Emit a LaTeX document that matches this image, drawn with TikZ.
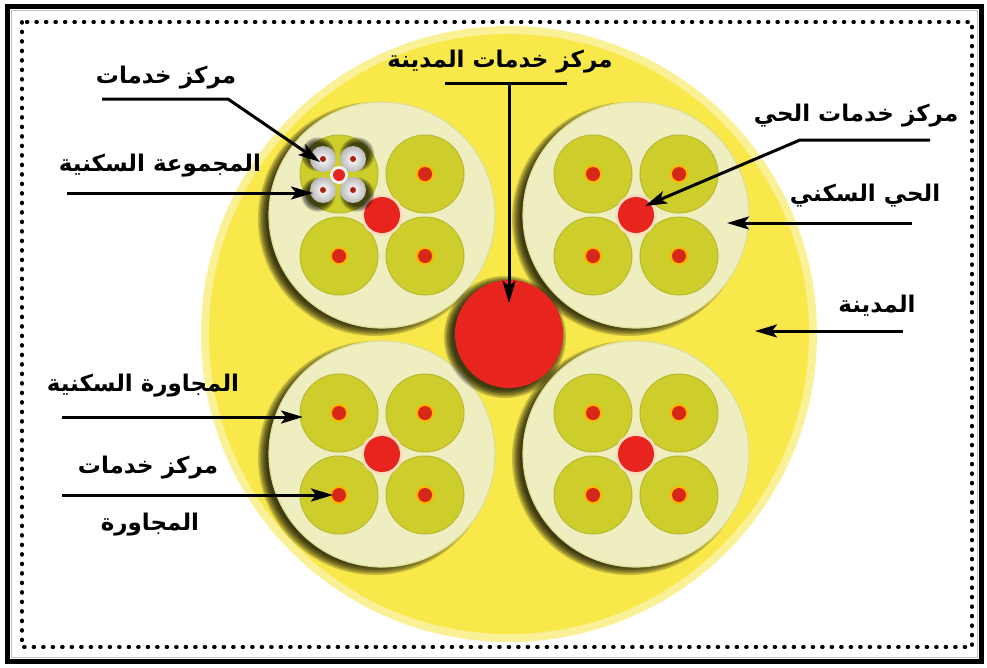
\documentclass[tikz,border=0pt]{standalone}
\usepackage{fontspec}
\usetikzlibrary{arrows.meta}
\newfontfamily\arabicfont[Script=Arabic]{DejaVu Sans Bold}
\TeXXeTstate=1
\definecolor{cyel}{RGB}{248,232,74}
\definecolor{cyelpale}{RGB}{250,240,150}
\definecolor{ccream}{RGB}{238,238,192}
\definecolor{cpodedge}{RGB}{222,222,150}
\definecolor{cgreen}{RGB}{205,205,44}
\definecolor{cgreenedge}{RGB}{185,185,50}
\definecolor{cred}{RGB}{232,36,30}
\definecolor{cdot}{RGB}{214,40,24}
\definecolor{chalo}{RGB}{250,222,190}
\begin{document}
\begin{tikzpicture}[x=1pt,y=-1pt,
  lbl/.style={font=\arabicfont\fontsize{23}{27}\selectfont, inner sep=0pt},
  ln/.style={line width=3pt},
  arr/.style={line width=3pt, -{Stealth[length=22pt,width=13pt,inset=5pt]}}]
\useasboundingbox (0,0) rectangle (987,667);
% frame
\fill[white] (0,0) rectangle (987,667);
\draw[line width=5pt] (7,6) rectangle (981,661);
\draw[gray!50, line width=1pt] (11,10) rectangle (977,657);
\draw[line width=3.8pt, dash pattern=on 0.8pt off 8.7pt, line cap=round] (22,22) rectangle (972,647);
% city
\fill[cyelpale] (509,334) circle (308);
\fill[cyel] (509,334) circle (300);
% pods
\foreach \cx/\cy in {382/215, 636/215, 382/454, 636/454}{
  \foreach \k in {0,...,5}
    \fill[black,opacity=0.2] ({\cx-7},{\cy+4}) circle ({117-\k*1.6});
  \fill[ccream] (\cx,\cy) circle (113);
  \draw[cpodedge, line width=1.2pt] (\cx,\cy) circle (113);
  \foreach \dx/\dy in {-43/-41, 43/-41, -43/41, 43/41}{
    \fill[cgreen] ({\cx+\dx},{\cy+\dy}) circle (39);
    \draw[cgreenedge, line width=1pt] ({\cx+\dx},{\cy+\dy}) circle (39);
  }
  \foreach \dx/\dy in {43/-41, -43/41, 43/41}{
    \fill[orange!60!yellow] ({\cx+\dx},{\cy+\dy}) circle (9);
    \fill[cdot] ({\cx+\dx},{\cy+\dy}) circle (7);
  }
  \fill[chalo] (\cx,\cy) circle (21);
  \fill[cred] (\cx,\cy) circle (18);
}
% dots for top-left green circles of the other three pods
\foreach \cx/\cy in {636/215, 382/454, 636/454}{
  \fill[orange!60!yellow] ({\cx-43},{\cy-41}) circle (9);
  \fill[cdot] ({\cx-43},{\cy-41}) circle (7);
}
% residential group (top-left pod, top-left neighbourhood)
\foreach \px/\py in {323/159, 353/159, 323/190, 353/190}{
  \foreach \k in {0,...,4}
    \fill[black,opacity=0.2] ({\px+(\px-339)*0.3},{\py+(\py-174.5)*0.3}) circle ({17-\k*1.3});
}
\foreach \px/\py in {323/159, 353/159, 323/190, 353/190}{
  \shade[inner color=white, outer color=gray!55] (\px,\py) circle (13);
  \fill[cdot!80!black] (\px,\py) circle (3);
}
\fill[white!90!gray] (339,175) circle (9);
\fill[cred] (339,175) circle (6);
% central city service centre
\foreach \k in {0,...,5}
  \fill[black,opacity=0.2] (505,337) circle ({61-\k*1.5});
\fill[cred] (509,334) circle (54);
% targets
\coordinate (pA) at (320,162);
\coordinate (pB) at (313,193);
\coordinate (pC) at (509,303);
\coordinate (pD) at (645,206);
\coordinate (pE) at (727,223);
\coordinate (pF) at (755,331);
\coordinate (pG) at (303,417);
\coordinate (pH) at (333,495);
% labels
\node[lbl] (t1) at (166,78) {\beginR مركز خدمات\endR};
\node[lbl] (t2) at (160,166) {\beginR المجموعة السكنية\endR};
\node[lbl] (t3) at (500,62) {\beginR مركز خدمات المدينة\endR};
\node[lbl] (t4) at (856,116) {\beginR مركز خدمات الحي\endR};
\node[lbl] (t5) at (865,196) {\beginR الحي السكني\endR};
\node[lbl] (t6) at (877,306) {\beginR المدينة\endR};
\node[lbl] (t7) at (143,386) {\beginR المجاورة السكنية\endR};
\node[lbl] (t8) at (148,468) {\beginR مركز خدمات\endR};
\node[lbl] (t9) at (150,525) {\beginR المجاورة\endR};
% connectors
\coordinate (s1) at (102,99); \coordinate (k1) at (228,99);
\draw[arr] (s1) -- (k1) -- (pA);
\coordinate (s2) at (67,193);
\draw[arr] (s2) -- (pB);
\coordinate (s3a) at (445,83); \coordinate (s3b) at (567,83); \coordinate (s3) at (509,83);
\draw[ln] (s3a) -- (s3b);
\draw[arr] (s3) -- (pC);
\coordinate (s4) at (930,140); \coordinate (k4) at (800,140);
\draw[arr] (s4) -- (k4) -- (pD);
\coordinate (s5) at (912,223);
\draw[arr] (s5) -- (pE);
\coordinate (s6) at (903,331);
\draw[arr] (s6) -- (pF);
\coordinate (s7) at (62,417);
\draw[arr] (s7) -- (pG);
\coordinate (s8) at (62,495);
\draw[arr] (s8) -- (pH);
\end{tikzpicture}
\end{document}
